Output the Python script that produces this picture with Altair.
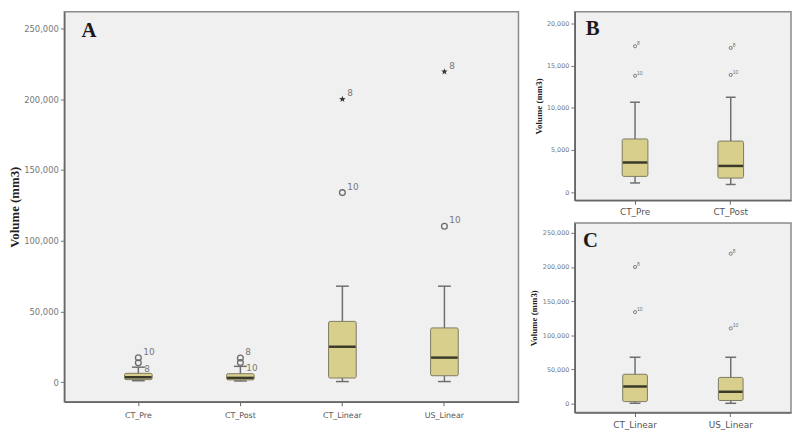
import altair as alt
import pandas as pd

# ---------------- data ----------------
categories = ["CT_Pre", "CT_Post", "CT_Linear", "US_Linear"]
whisker_low = [1080, 900, 500, 500]
quartile_1 = [1860, 1660, 3000, 4600]
medians = [3500, 3100, 25100, 17400]
quartile_3 = [6300, 6050, 43000, 38400]
whisker_high = [10660, 11250, 67900, 67900]

outlier_group = ["CT_Pre", "CT_Pre", "CT_Post", "CT_Post",
                 "CT_Linear", "CT_Linear", "US_Linear", "US_Linear"]
outlier_value = [17300, 13800, 17100, 13900, 200000, 134000, 219500, 110200]
outlier_case_a = ["10", "8", "8", "10", "8", "10", "8", "10"]
outlier_case_bc = ["8", "10", "8", "10", "8", "10", "8", "10"]
outlier_extreme = [False, False, False, False, True, False, True, False]

y_ticks_big = [0, 50000, 100000, 150000, 200000, 250000]
y_ticks_small = [0, 5000, 10000, 15000, 20000]
y_title = "Volume (mm3)"

boxes = pd.DataFrame({"cat": categories, "lo": whisker_low, "q1": quartile_1,
                      "med": medians, "q3": quartile_3, "hi": whisker_high})
outliers = pd.DataFrame({"cat": outlier_group, "v": outlier_value,
                         "case_a": outlier_case_a, "case_bc": outlier_case_bc,
                         "extreme": outlier_extreme})

KHAKI = "#d8cf8d"
STAR = ("M0,-1L0.235,-0.324L0.951,-0.309L0.380,0.124L0.588,0.809L0,0.4"
        "L-0.588,0.809L-0.380,0.124L-0.951,-0.309L-0.235,-0.324Z")


def panel(cats, width, height, domain, ticks, pad_outer, letter, lx, ly,
          ytitle_size, ylabel_size, extent, title_pad, xlabel_size, xlabel_pad,
          box_w, cap_w, small, case_field):
    bx = boxes[boxes["cat"].isin(cats)]
    od = outliers[outliers["cat"].isin(cats)]

    xaxis = alt.Axis(title=None, labelAngle=0, labelFont="DejaVu Sans",
                     labelFontSize=xlabel_size, labelColor="#555555",
                     labelPadding=xlabel_pad, tickSize=4, tickColor="#666666",
                     domainColor="#666666", domainWidth=1.5)
    xscale = alt.Scale(domain=cats, paddingInner=0, paddingOuter=pad_outer)
    yaxis = alt.Axis(values=ticks, format=",d", title=y_title, grid=False,
                     labelFont="DejaVu Sans", labelFontSize=ylabel_size,
                     labelColor="#777777", labelPadding=2, tickSize=4,
                     tickColor="#777777", domainColor="#666666", domainWidth=1.5,
                     titleFont="Liberation Serif", titleFontWeight="bold",
                     titleFontSize=ytitle_size, titleColor="#222222",
                     titlePadding=title_pad, minExtent=extent, maxExtent=extent)
    yscale = alt.Scale(domain=domain, nice=False, zero=False)

    def X():
        return alt.X("cat:N", sort=cats, scale=xscale, axis=xaxis)

    def Y(f):
        return alt.Y(f, type="quantitative", scale=yscale, axis=yaxis)

    base = alt.Chart(bx)
    whisk = base.mark_rule(color="#6e6e6e", strokeWidth=1.5).encode(
        x=X(), y=Y("lo"), y2="hi:Q")
    cap_lo = base.mark_tick(size=cap_w, thickness=1.5, color="#6e6e6e",
                            opacity=1).encode(x=X(), y=Y("lo"))
    cap_hi = base.mark_tick(size=cap_w, thickness=1.5, color="#6e6e6e",
                            opacity=1).encode(x=X(), y=Y("hi"))
    box = base.mark_bar(size=box_w, fill=KHAKI, stroke="#7d7a62",
                        strokeWidth=1, cornerRadius=1.5, opacity=1).encode(
        x=X(), y=Y("q1"), y2="q3:Q")
    med = base.mark_tick(size=box_w - 1, thickness=2.5, color="#3b3a2a",
                         opacity=1).encode(x=X(), y=Y("med"))

    layers = [whisk, cap_lo, cap_hi, box, med]
    oc = alt.Chart(od)
    if small:
        layers.append(oc.mark_point(shape="circle", filled=False, size=10,
                                    strokeWidth=0.9, color="#707070",
                                    opacity=1).encode(x=X(), y=Y("v")))
        layers.append(oc.mark_text(align="left", baseline="middle", dx=2,
                                   dy=-3, fontSize=5, color="#707070").encode(
            x=X(), y=Y("v"), text=f"{case_field}:N"))
    else:
        layers.append(oc.transform_filter("!datum.extreme").mark_point(
            shape="circle", filled=False, size=34, strokeWidth=1.3,
            color="#6a6a6a", opacity=1).encode(x=X(), y=Y("v")))
        layers.append(oc.transform_filter("datum.extreme").mark_point(
            shape=STAR, filled=True, size=48, color="#333333",
            opacity=1).encode(x=X(), y=Y("v")))
        # upper labels sit above-right of their marker
        layers.append(oc.transform_filter("datum.v >= 16000").mark_text(
            align="left", baseline="middle", dx=5, dy=-6, fontSize=9,
            font="DejaVu Sans", color="#777777").encode(
            x=X(), y=Y("v"), text=f"{case_field}:N"))
        # lower labels of the small boxes sit below-right
        layers.append(oc.transform_filter("datum.v < 16000").mark_text(
            align="left", baseline="middle", dx=6, dy=6, fontSize=9,
            font="DejaVu Sans", color="#777777").encode(
            x=X(), y=Y("v"), text=f"{case_field}:N"))

    lab = alt.Chart(pd.DataFrame({"t": [letter]})).mark_text(
        font="Liberation Serif", fontWeight="bold", fontSize=21,
        align="center", baseline="middle", color="#1a1a1a").encode(
        x=alt.value(lx), y=alt.value(ly), text="t:N")
    layers.append(lab)
    return alt.layer(*layers).properties(width=width, height=height)


pA = panel(categories, 460, 395, [-13730, 261870], y_ticks_big, 0.226, "A",
           25, 20, 13, 8.5, 40, 3, 8, 6, 28, 13, False, "case_a")
pB = panel(categories[:2], 219, 191, [-972, 21406], y_ticks_small, 0.13, "B",
           18, 18, 9, 6.5, 28, 4, 9, 3, 26, 10, True, "case_bc")
pC = panel(categories[2:], 219, 192, [-13030, 264470], y_ticks_big, 0.13, "C",
           16, 18, 9, 6.5, 33, 4, 9, 4, 25, 11, True, "case_bc")

chart = alt.hconcat(pA, alt.vconcat(pB, pC, spacing=5), spacing=9).properties(
    padding=0, background="white"
).configure_view(fill="#f0f0f0", stroke="#8a8a8a", strokeWidth=1.5)

chart.save("out.html", embed_options={"renderer": "svg", "actions": False})
